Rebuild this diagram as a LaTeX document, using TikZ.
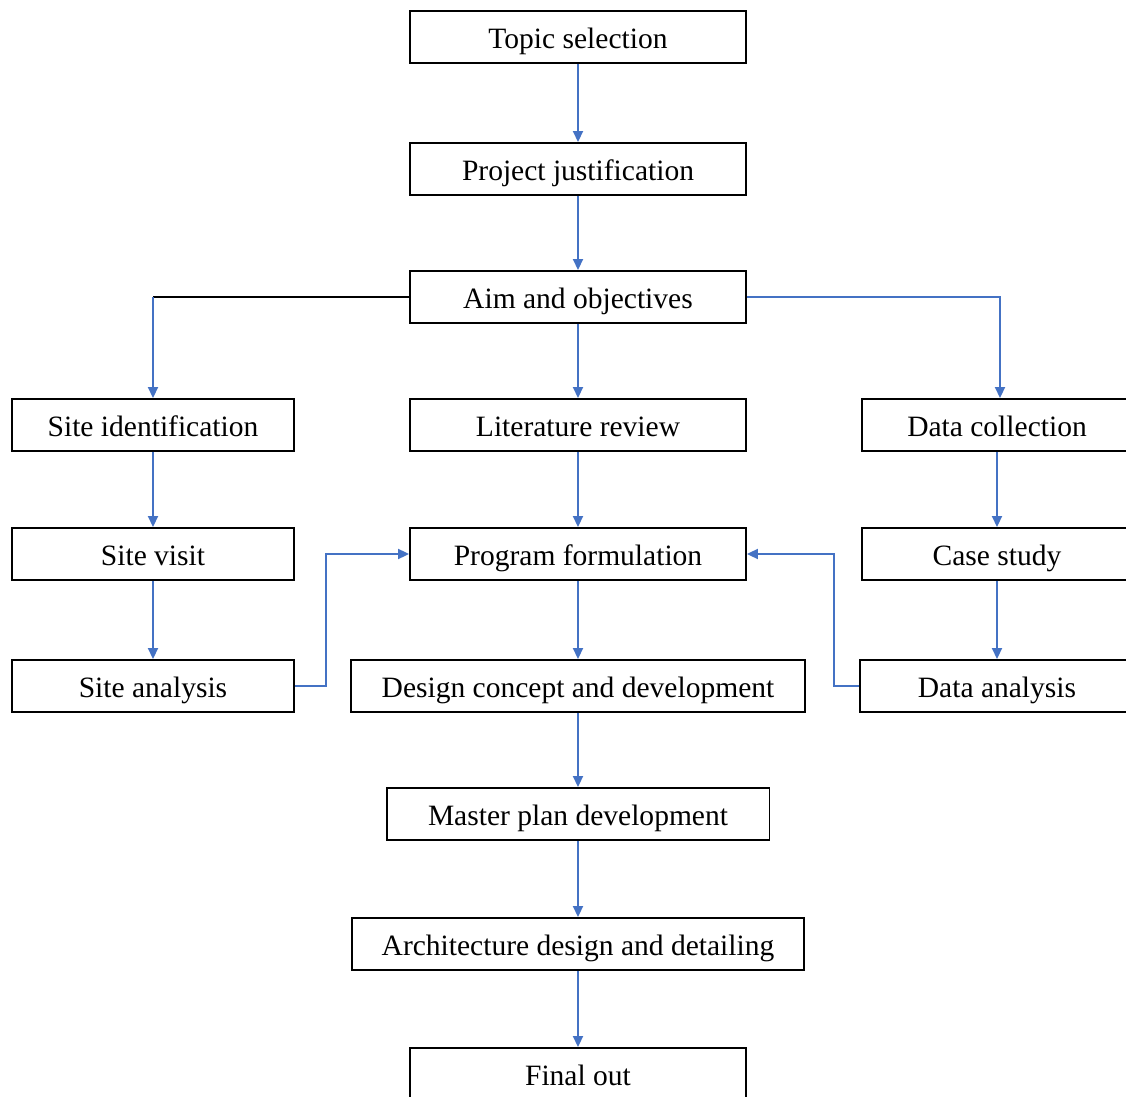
\documentclass[tikz,border=0pt]{standalone}
\usepackage{fontspec}
\setmainfont{Liberation Serif}
\usetikzlibrary{arrows.meta,positioning,calc}
\definecolor{flowblue}{RGB}{68,114,196}

\tikzset{
    box/.style={draw, line width=1.1pt, fill=white, minimum height=1.04cm, inner sep=0pt,
        text height=0.5cm, text depth=0.04cm,
        font=\fontsize{16.8}{20}\selectfont},
    flow/.style={draw=flowblue, line width=1.1pt, -{Triangle[length=0.22cm,width=0.2cm]}}
}

\begin{document}
\begin{tikzpicture}[x=0.02cm, y=-0.02cm]
    \useasboundingbox (0,0) rectangle (1126,1097);

    % main column
    \node[box, minimum width=6.72cm] (topic) at (578, 37) {Topic selection};
    \node[box, minimum width=6.72cm] (just) at (578, 169) {Project justification};
    \node[box, minimum width=6.72cm] (aim) at (578, 297) {Aim and objectives};
    \node[box, minimum width=6.72cm] (lit) at (578, 425) {Literature review};
    \node[box, minimum width=6.72cm] (prog) at (578, 554) {Program formulation};
    \node[box, minimum width=9.08cm] (concept) at (578, 686) {Design concept and development};
    \node[box, minimum width=7.66cm] (master) at (578, 814) {Master plan development};
    \node[box, minimum width=9.04cm] (arch) at (578, 944) {Architecture design and detailing};
    \node[box, minimum width=6.72cm] (final) at (578, 1074) {Final out};

    % left column
    \node[box, minimum width=5.64cm] (siteid) at (153, 425) {Site identification};
    \node[box, minimum width=5.64cm] (visit) at (153, 554) {Site visit};
    \node[box, minimum width=5.64cm] (sitean) at (153, 686) {Site analysis};

    % right column
    \node[box, minimum width=5.4cm] (datacol) at (997, 425) {Data collection};
    \node[box, minimum width=5.4cm] (case) at (997, 554) {Case study};
    \node[box, minimum width=5.48cm] (datan) at (997, 686) {Data analysis};

    % vertical flow
    \draw[flow] (topic) -- (just);
    \draw[flow] (just) -- (aim);
    \draw[flow] (aim) -- (lit);
    \draw[flow] (lit) -- (prog);
    \draw[flow] (prog) -- (concept);
    \draw[flow] (concept) -- (master);
    \draw[flow] (master) -- (arch);
    \draw[flow] (arch) -- (final);
    \draw[flow] (siteid) -- (visit);
    \draw[flow] (visit) -- (sitean);
    \draw[flow] (datacol) -- (case);
    \draw[flow] (case) -- (datan);

    % branches from aim
    \coordinate (bendL) at (153, 297);
    \draw[line width=1.1pt] (aim.west) -- (bendL);
    \draw[flow] (bendL) -- (siteid.north);
    \draw[flow] (aim.east) -| ($(datacol.north)+(3,0)$);

    % side inputs to program
    \draw[flow] (sitean.east) -- ++(31,0) |- (prog.west);
    \draw[flow] (datan.west) -- ++(-25,0) |- (prog.east);
\end{tikzpicture}
\end{document}
